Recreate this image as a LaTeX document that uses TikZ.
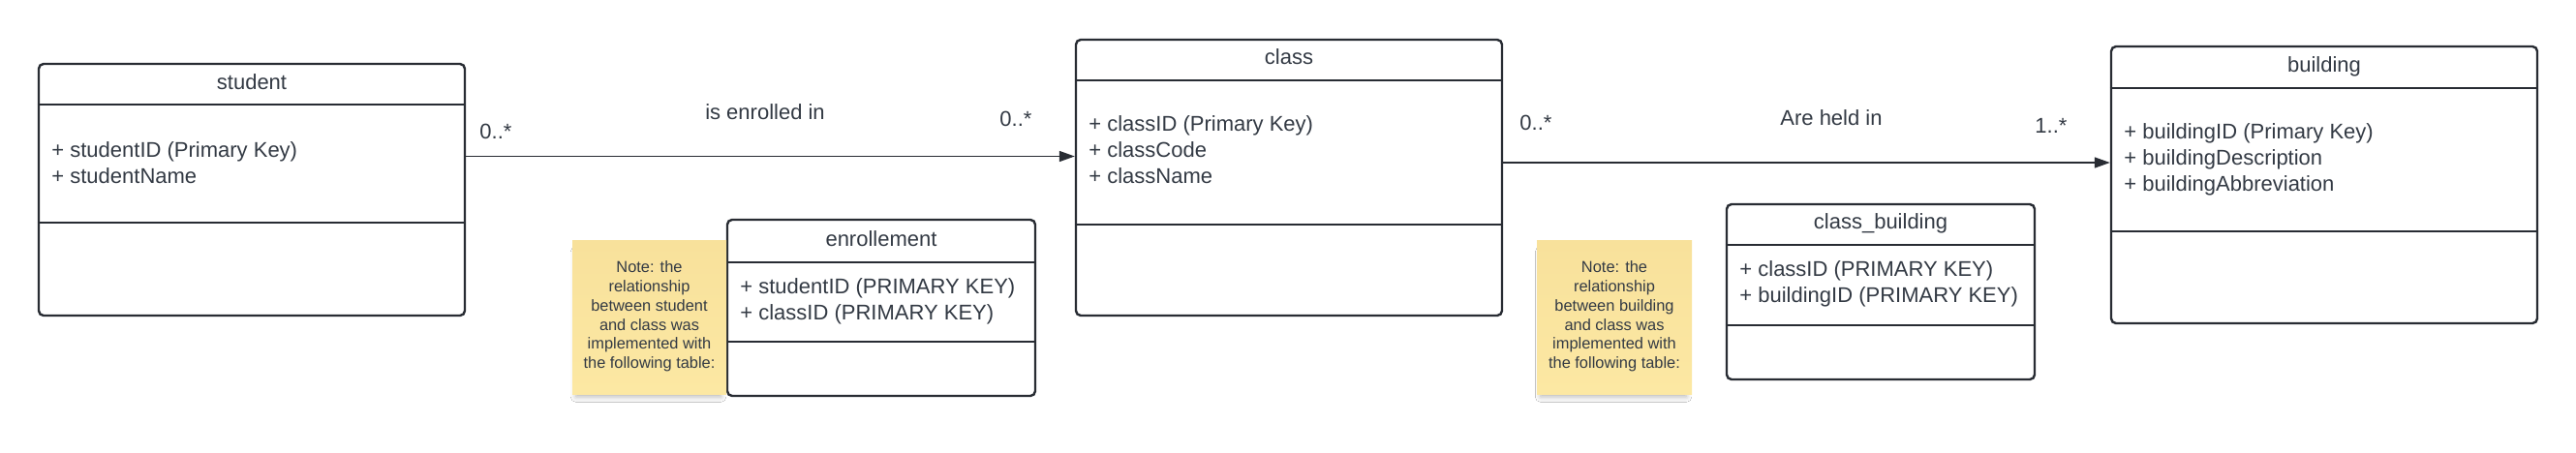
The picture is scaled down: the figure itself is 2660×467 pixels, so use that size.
\documentclass[tikz,border=0pt]{standalone}
\usepackage{fontspec}
\setmainfont{Liberation Sans}
\usetikzlibrary{arrows.meta,shadows.blur}
\definecolor{linecol}{RGB}{40,44,51}
\definecolor{textcol}{RGB}{51,58,68}
\definecolor{notefill}{RGB}{252,232,163}
\definecolor{notetop}{RGB}{248,225,155}
\newcommand{\attrfont}{\fontsize{11pt}{13.5pt}\selectfont}
\newcommand{\notefont}{\fontsize{8.2pt}{9.85pt}\selectfont}
\tikzset{
  umlbox/.style={draw=linecol, line width=1.2pt, rounded corners=2.5pt, inner sep=0pt, fill=white},
  divider/.style={draw=linecol, line width=1.2pt},
  attr/.style={anchor=base west, inner sep=0pt, text=textcol, font=\attrfont},
  ttl/.style={anchor=base, inner sep=0pt, text=textcol, font=\attrfont},
  lbl/.style={inner sep=0pt, text=textcol, font=\attrfont},
  notebox/.style={top color=notetop, bottom color=notefill, draw=none, inner sep=0pt,
    blur shadow={shadow xshift=-0.5pt, shadow yshift=-4pt, shadow blur radius=3pt, shadow opacity=30, shadow scale=0.94}},
  notetext/.style={inner sep=0pt, text=textcol, font=\notefont, align=center},
  assoc/.style={draw=linecol, line width=0.75pt, -{Triangle[length=8pt,width=5.5pt]}}
}
\begin{document}
\begin{tikzpicture}[x=0.5pt,y=-0.5pt]
\useasboundingbox[fill=white] (0,0) rectangle (2660,467);

% student
\node[umlbox, minimum width=220pt, minimum height=130pt] (student) at (260,196) {};
\draw[divider] (student.west |- 0,108) -- (student.east |- 0,108);
\draw[divider] (student.west |- 0,230) -- (student.east |- 0,230);
\node[ttl] (studentT) at (260,92) {student};
\node[attr] (studentA1) at (53,162) {+ studentID (Primary Key)};
\node[attr] (studentA2) at (53,189) {+ studentName};

% class
\node[umlbox, minimum width=220pt, minimum height=142.5pt] (class) at (1331,183.5) {};
\draw[divider] (class.west |- 0,83) -- (class.east |- 0,83);
\draw[divider] (class.west |- 0,232) -- (class.east |- 0,232);
\node[ttl] (classT) at (1331,66) {class};
\node[attr] (classA1) at (1124,135) {+ classID (Primary Key)};
\node[attr] (classA2) at (1124,162) {+ classCode};
\node[attr] (classA3) at (1124,189) {+ className};

% building
\node[umlbox, minimum width=220pt, minimum height=143pt] (building) at (2400,191) {};
\draw[divider] (building.west |- 0,91) -- (building.east |- 0,91);
\draw[divider] (building.west |- 0,239) -- (building.east |- 0,239);
\node[ttl] (buildingT) at (2400,74) {building};
\node[attr] (buildingA1) at (2193,143) {+ buildingID (Primary Key)};
\node[attr] (buildingA2) at (2193,170) {+ buildingDescription};
\node[attr] (buildingA3) at (2193,197) {+ buildingAbbreviation};

% enrollement
\node[umlbox, minimum width=159pt, minimum height=91pt] (enrol) at (910,318) {};
\draw[divider] (enrol.west |- 0,271) -- (enrol.east |- 0,271);
\draw[divider] (enrol.west |- 0,353) -- (enrol.east |- 0,353);
\node[ttl] (enrolT) at (910,254) {enrollement};
\node[attr] (enrolA1) at (764,303) {+ studentID (PRIMARY KEY)};
\node[attr] (enrolA2) at (764,330) {+ classID (PRIMARY KEY)};

% class_building
\node[umlbox, minimum width=159pt, minimum height=90.5pt] (cb) at (1942,301.5) {};
\draw[divider] (cb.west |- 0,253) -- (cb.east |- 0,253);
\draw[divider] (cb.west |- 0,336) -- (cb.east |- 0,336);
\node[ttl] (cbT) at (1942,236) {class\_building};
\node[attr] (cbA1) at (1796,285) {+ classID (PRIMARY KEY)};
\node[attr] (cbA2) at (1796,312) {+ buildingID (PRIMARY KEY)};

% notes
\node[notebox, minimum width=79.5pt, minimum height=79.5pt] (note1) at (670.5,327.5) {};
\node[notetext] (note1T) at (670.5,327) {Note: the\\relationship\\between student\\and class was\\implemented with\\the following table:};
\node[notebox, minimum width=80pt, minimum height=79.5pt] (note2) at (1667,327.5) {};
\node[notetext] (note2T) at (1667,327) {Note: the\\relationship\\between building\\and class was\\implemented with\\the following table:};

% associations
\draw[assoc] (student.east |- 0,161.5) -- (class.west |- 0,161.5);
\node[lbl, anchor=west] (m1) at (495,136) {0..*};
\node[lbl] (r1) at (790,116) {is enrolled in};
\node[lbl, anchor=west] (m2) at (1032,123) {0..*};

\draw[assoc] (class.east |- 0,168) -- (building.west |- 0,168);
\node[lbl, anchor=west] (m3) at (1569,127) {0..*};
\node[lbl] (r2) at (1891,122) {Are held in};
\node[lbl, anchor=west] (m4) at (2101,130) {1..*};
\end{tikzpicture}
\end{document}
